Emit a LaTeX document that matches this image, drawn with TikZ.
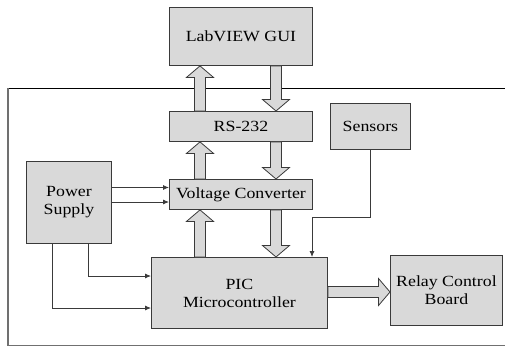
\documentclass[tikz,border=0pt]{standalone}
\usepackage{fontspec}
\setmainfont{Liberation Serif}[FakeStretch=1.15]
\usetikzlibrary{calc,arrows.meta}
\definecolor{boxfill}{HTML}{D9D9D9}
\definecolor{boxline}{HTML}{3A3A3A}
\definecolor{frameg}{HTML}{707070}
\tikzset{
  blk/.style={draw=boxline, fill=boxfill, line width=0.9pt, anchor=north west, inner sep=0pt,
    align=center, font=\fontsize{15.5}{18}\selectfont},
  fat/.style={draw=boxline, fill=boxfill, line width=0.8pt, line join=miter},
  thin/.style={draw=boxline, line width=0.8pt, -{Latex[length=6pt,width=5pt]}},
}
\newcommand\fatarrow[2]{%
  \coordinate (fa-s) at (#1);
  \coordinate (fa-t) at (#2);
  \coordinate (fa-b) at ($(fa-t)!11.5pt!(fa-s)$);
  \filldraw[fat] ($(fa-s)!5.5pt!90:(fa-b)$) -- ($(fa-b)!5.5pt!-90:(fa-s)$) -- ($(fa-b)!13.5pt!-90:(fa-s)$)
    -- (fa-t) -- ($(fa-b)!13.5pt!90:(fa-s)$) -- ($(fa-b)!5.5pt!90:(fa-s)$) -- ($(fa-s)!5.5pt!-90:(fa-b)$) -- cycle;
}
\begin{document}
\begin{tikzpicture}[x=1pt,y=-1pt]
\useasboundingbox (0,0) rectangle (505,348);
% frame
\draw[black, line width=1pt] (8,88) -- (505,88);
\draw[frameg, line width=1.5pt] (8,88) -- (8,345.5) -- (505,345.5);
% blocks
\node[blk, minimum width=143, minimum height=58] (gui) at (169,7) {LabVIEW GUI};
\node[blk, minimum width=143, minimum height=30] (rs) at (169,111) {RS-232};
\node[blk, minimum width=80, minimum height=46] (sens) at (330,103) {Sensors};
\node[blk, minimum width=143, minimum height=30] (vc) at (169,179) {Voltage Converter};
\node[blk, minimum width=85, minimum height=82] (ps) at (26,161) {Power\\Supply};
\node[blk, minimum width=176, minimum height=71] (pic) at (151,257) {PIC\\Microcontroller};
\node[blk, minimum width=112, minimum height=70] (relay) at (390,255) {Relay Control\\Board};
% columns
\coordinate (cl) at (200,0);
\coordinate (cr) at (276,0);
\coordinate (cs) at (370,0);
\coordinate (rowr) at (0,292);
% fat arrows
\fatarrow{cl |- rs.north}{cl |- gui.south}
\fatarrow{cr |- gui.south}{cr |- rs.north}
\fatarrow{cl |- vc.north}{cl |- rs.south}
\fatarrow{cr |- rs.south}{cr |- vc.north}
\fatarrow{cl |- pic.north}{cl |- vc.south}
\fatarrow{cr |- vc.south}{cr |- pic.north}
\fatarrow{pic.east |- rowr}{relay.west |- rowr}
% thin arrows
\coordinate (p1) at (0,187.5);
\coordinate (p2) at (0,202);
\coordinate (q1) at (88,0);
\coordinate (q2) at (52,0);
\coordinate (r1) at (0,276);
\coordinate (r2) at (0,308);
\coordinate (sy) at (0,217);
\coordinate (sx) at (312,0);
\draw[thin] (ps.east |- p1) -- (vc.west |- p1);
\draw[thin] (ps.east |- p2) -- (vc.west |- p2);
\draw[thin] (q1 |- ps.south) -- (q1 |- r1) -- (pic.west |- r1);
\draw[thin] (q2 |- ps.south) -- (q2 |- r2) -- (pic.west |- r2);
\draw[thin] (cs |- sens.south) -- (cs |- sy) -- (sx |- sy) -- (sx |- pic.north);
\end{tikzpicture}
\end{document}
